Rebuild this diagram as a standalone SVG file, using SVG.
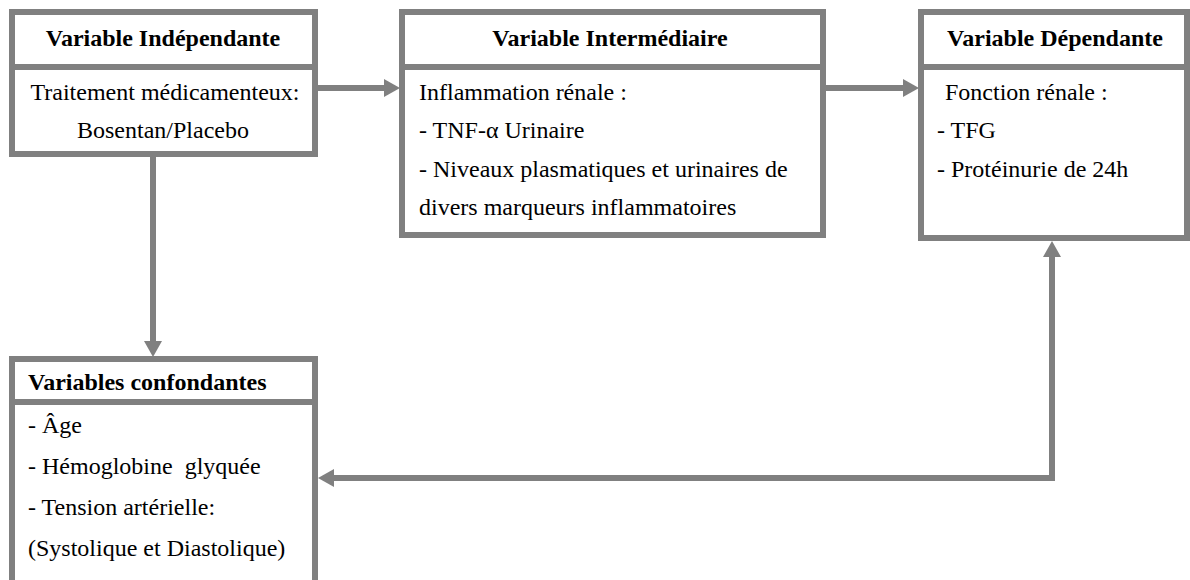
<svg xmlns="http://www.w3.org/2000/svg" width="1190" height="580" viewBox="0 0 1190 580">
<style>
.box{fill:#fff;stroke:#808080;stroke-width:6}
.div{stroke:#808080;stroke-width:6}
.con{fill:none;stroke:#808080;stroke-width:6}
.h{font-family:"Liberation Serif","Times New Roman",serif;font-size:24px;font-weight:bold;fill:#000}
.t{font-family:"Liberation Serif","Times New Roman",serif;font-size:24px;fill:#000}
</style>
<defs>
<marker id="ah" markerUnits="userSpaceOnUse" markerWidth="16" markerHeight="18" refX="0" refY="9" orient="auto-start-reverse" viewBox="0 0 16 18">
<path d="M0,0 L16,9 L0,18 Z" fill="#808080"/>
</marker>
</defs>
<rect width="1190" height="580" fill="#fff"/>
<g id="connectors">
<path class="con" d="M318,88 H384" marker-end="url(#ah)"/>
<path class="con" d="M826,88 H903" marker-end="url(#ah)"/>
<path class="con" d="M153,157 V341" marker-end="url(#ah)"/>
<path class="con" d="M334,478 H1052 V257" marker-start="url(#ah)" marker-end="url(#ah)"/>
</g>
<g id="independante">
<rect class="box" x="12" y="12" width="303" height="142"/>
<line class="div" x1="12" y1="67" x2="315" y2="67"/>
<text class="h" x="163" y="46" text-anchor="middle">Variable Indépendante</text>
<text class="t" x="165" y="100" text-anchor="middle">Traitement médicamenteux:</text>
<text class="t" x="163" y="138" text-anchor="middle">Bosentan/Placebo</text>
</g>
<g id="intermediaire">
<rect class="box" x="402" y="12" width="421" height="223"/>
<line class="div" x1="402" y1="67" x2="823" y2="67"/>
<text class="h" x="610" y="46" text-anchor="middle">Variable Intermédiaire</text>
<text class="t" x="419" y="100">Inflammation rénale :</text>
<text class="t" x="419" y="138">- TNF-α Urinaire</text>
<text class="t" x="419" y="177">- Niveaux plasmatiques et urinaires de</text>
<text class="t" x="419" y="215">divers marqueurs inflammatoires</text>
</g>
<g id="dependante">
<rect class="box" x="921" y="12" width="266" height="226"/>
<line class="div" x1="921" y1="67" x2="1187" y2="67"/>
<text class="h" x="1055" y="46" text-anchor="middle">Variable Dépendante</text>
<text class="t" x="945" y="100">Fonction rénale :</text>
<text class="t" x="937" y="138">- TFG</text>
<text class="t" x="937" y="177">- Protéinurie de 24h</text>
</g>
<g id="confondantes">
<rect class="box" x="12" y="359" width="303" height="260"/>
<line class="div" x1="12" y1="402" x2="315" y2="402"/>
<text class="h" x="28" y="390">Variables confondantes</text>
<text class="t" x="28" y="433">- Âge</text>
<text class="t" x="28" y="474" xml:space="preserve">- Hémoglobine  glyquée</text>
<text class="t" x="28" y="515">- Tension artérielle:</text>
<text class="t" x="28" y="556">(Systolique et Diastolique)</text>
</g>
</svg>
